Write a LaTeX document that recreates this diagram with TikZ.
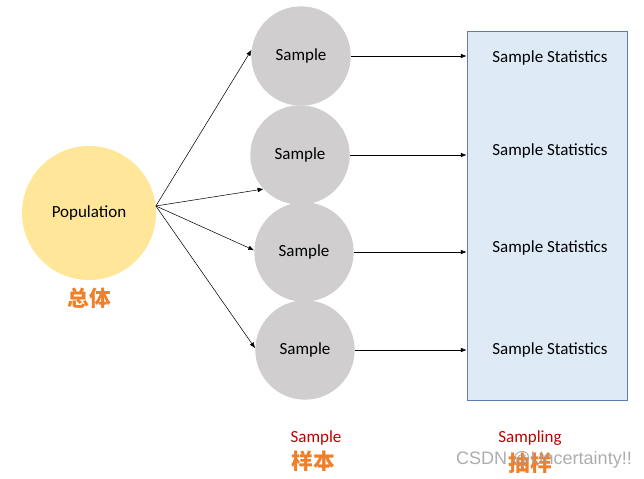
\documentclass[tikz,border=0pt]{standalone}
\usepackage{fontspec}
\setmainfont{Carlito}
\newfontfamily\cjk{Noto Sans CJK SC}
\newfontfamily\wmfont{Liberation Sans}
\usetikzlibrary{arrows.meta}

\definecolor{popfill}{HTML}{FFE699}
\definecolor{smpfill}{HTML}{D0CECE}
\definecolor{statfill}{HTML}{DEEBF7}
\definecolor{statline}{HTML}{5B7DB1}
\definecolor{cnorange}{HTML}{F07F2A}
\definecolor{lblred}{HTML}{C00000}

\begin{document}
\begin{tikzpicture}[x=0.03cm,y=-0.03cm,
  every node/.style={font=\fontsize{14.5}{17}\selectfont},
  pop/.style={circle,fill=popfill,minimum size=4.02cm,inner sep=0pt},
  smp/.style={circle,fill=smpfill,minimum size=2.98cm,inner sep=0pt},
  cnlabel/.style={font=\cjk\bfseries\fontsize{18.5}{20}\selectfont,text=cnorange},
  enlabel/.style={font=\fontsize{14.5}{17}\selectfont,text=lblred},
  arr/.style={-{Latex[length=5pt,width=4pt]},line width=0.45pt}]
\useasboundingbox (0,0) rectangle (644,479);

\node[pop] (pop) at (89,213) {Population};
\node[cnlabel] (popcn) at (89,298) {总体};

\node[smp] (s1) at (301,56) {Sample};
\node[smp] (s2) at (300,155) {Sample};
\node[smp] (s3) at (304,252) {Sample};
\node[smp] (s4) at (305,350) {Sample};

\node[draw=statline,fill=statfill,line width=0.6pt,minimum width=160*0.03cm,
  minimum height=369*0.03cm,inner sep=0pt] (stats) at (547,215.5) {};
\node (t1) at (550,57.5) {Sample Statistics};
\node (t2) at (550,150.5) {Sample Statistics};
\node (t3) at (550,247.5) {Sample Statistics};
\node (t4) at (550,349.5) {Sample Statistics};

\coordinate (src) at (pop.6);
\draw[arr] (src) -- (s1.173);
\draw[arr] (src) -- (s2.223);
\draw[arr] (src) -- (s3.178);
\draw[arr] (src) -- (s4.178);

\draw[arr] (s1.east) -- (s1.east -| stats.west);
\draw[arr] (s2.east) -- (s2.east -| stats.west);
\draw[arr] (s3.east) -- (s3.east -| stats.west);
\draw[arr] (s4.east) -- (s4.east -| stats.west);

\node[enlabel] (smpen) at (316,438) {Sample};
\node[cnlabel] (smpcn) at (313,461) {样本};
\node[enlabel] (stten) at (530,438) {Sampling};
\node[cnlabel] (sttcn) at (530,463) {抽样};

\node[font=\wmfont\fontsize{15.4}{17}\selectfont,text=gray!75,opacity=0.85] (wm) at (544,460) {CSDN @Uncertainty!!};
\end{tikzpicture}
\end{document}
